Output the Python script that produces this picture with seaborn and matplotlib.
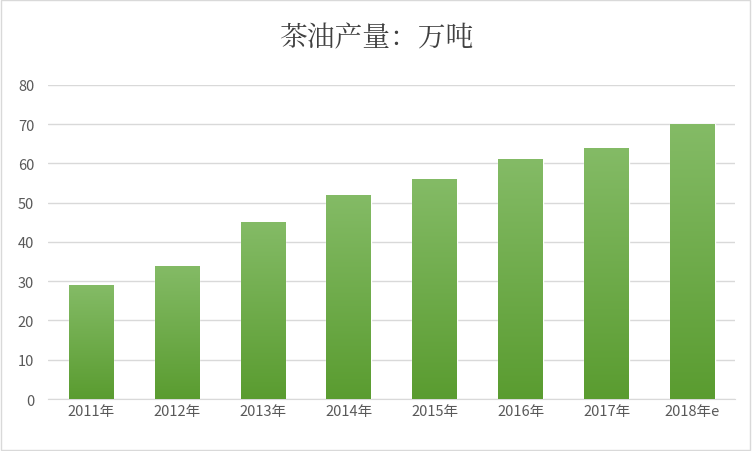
import matplotlib
matplotlib.use("Agg")
import matplotlib.pyplot as plt
import seaborn as sns
import numpy as np
import pandas as pd
from matplotlib.colors import LinearSegmentedColormap

years = ["2011年", "2012年", "2013年", "2014年", "2015年", "2016年", "2017年", "2018年e"]
values = [29, 34, 45, 52, 56, 61, 64, 70]
title = "茶油产量：万吨"

sns.set_style("white")
plt.rcParams['font.family'] = ['Noto Sans CJK SC', 'DejaVu Sans']

fig = plt.figure(figsize=(7.52, 4.52), dpi=100)
ax = fig.add_axes([0.064, 0.115, 0.914, 0.695])
df = pd.DataFrame({"year": years, "value": values})
sns.barplot(data=df, x="year", y="value", color="#6aab45", width=0.52, ax=ax, zorder=2)

cmap = LinearSegmentedColormap.from_list("g", ["#5a9c30", "#84bb66"])
grad = np.linspace(0, 1, 256).reshape(-1, 1)
for p in ax.patches:
    x0, y0 = p.get_x(), p.get_y()
    w, h = p.get_width(), p.get_height()
    im = ax.imshow(grad, cmap=cmap, extent=[x0, x0 + w, y0, y0 + h], origin="lower",
                   aspect="auto", zorder=3)
    im.set_clip_path(p)
ax.set_xlim(-0.5, len(years) - 0.5)
ax.set_ylim(0, 80)
ax.set_yticks(range(0, 81, 10))
ax.yaxis.grid(True, color="#d9d9d9", linewidth=1, zorder=0)
ax.set_axisbelow(True)
for s in ["top", "right", "left"]:
    ax.spines[s].set_visible(False)
ax.spines["bottom"].set_color("#d9d9d9")
ax.set_xlabel("")
ax.set_ylabel("")
ax.tick_params(axis="both", colors="#595959", labelsize=10.5, length=0)
ax.tick_params(axis="y", pad=10)
fig.text(0.5, 0.915, title, ha="center", va="center", fontsize=20, color="#404040",
         family=['Noto Serif CJK SC', 'Noto Sans CJK SC', 'DejaVu Sans'])
fig.patches.append(plt.Rectangle((0.001, 0.002), 0.997, 0.995, transform=fig.transFigure,
                                 fill=False, edgecolor="#d9d9d9", linewidth=1))
fig.savefig("out.png", dpi=100)
